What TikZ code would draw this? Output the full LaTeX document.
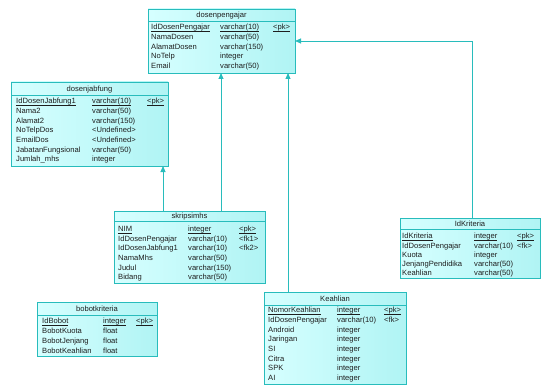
\documentclass[tikz,border=0pt]{standalone}
\usepackage{fontspec}
\setmainfont{Liberation Sans}
\usetikzlibrary{arrows.meta}
\definecolor{tealc}{RGB}{40,188,188}
\definecolor{cyantop}{RGB}{214,255,255}
\definecolor{cyanbot}{RGB}{176,244,244}
\definecolor{txt}{RGB}{30,30,30}
\newcommand\keyul[1]{\underline{\raisebox{0pt}[\height][0pt]{#1}}}
\tikzset{
  tbl/.style={draw=tealc,line width=0.8pt,left color=cyantop,right color=cyanbot,
    inner sep=0pt,outer sep=0pt,anchor=north west},
  sepl/.style={draw=tealc,line width=0.6pt},
  ttl/.style={text=txt,font=\fontsize{7.6}{9}\selectfont,inner sep=0pt,anchor=base},
  fld/.style={text=txt,font=\fontsize{7.6}{9}\selectfont,inner sep=0pt,anchor=base west},
  fk/.style={draw=tealc,line width=0.9pt,-{Triangle[length=6pt,width=5pt]}}
}
\begin{document}
\begin{tikzpicture}[x=1pt,y=-1pt]
\useasboundingbox (0,0) rectangle (543,385);
% dosenpengajar
\node[tbl,minimum width=147pt,minimum height=64pt] (dp) at (148,9) {};
\draw[sepl] ([yshift=-12pt]dp.north west) -- ([yshift=-12pt]dp.north east);
\node[ttl] (dp-t) at ([yshift=-8.7pt]dp.north) {dosenpengajar};
\foreach \f/\t/\k [count=\i] in {\keyul{IdDosenPengajar}/\keyul{varchar(10)}/\keyul{<pk>},
  NamaDosen/varchar(50)/{}, AlamatDosen/varchar(150)/{}, NoTelp/integer/{}, Email/varchar(50)/{}} {
  \node[fld] (dp-f\i) at (151,{29.7+(\i-1)*9.75}) {\f};
  \node[fld] (dp-y\i) at (220,{29.7+(\i-1)*9.75}) {\t};
  \node[fld] (dp-k\i) at (273,{29.7+(\i-1)*9.75}) {\k};
}
% dosenjabfung
\node[tbl,minimum width=157pt,minimum height=84pt] (dj) at (11,82) {};
\draw[sepl] ([yshift=-13pt]dj.north west) -- ([yshift=-13pt]dj.north east);
\node[ttl] (dj-t) at ([yshift=-9.2pt]dj.north) {dosenjabfung};
\foreach \f/\t/\k [count=\i] in {\keyul{IdDosenJabfung1}/\keyul{varchar(10)}/\keyul{<pk>},
  Nama2/varchar(50)/{}, Alamat2/varchar(150)/{}, NoTelpDos/<Undefined>/{}, EmailDos/<Undefined>/{},
  JabatanFungsional/varchar(50)/{}, Jumlah\_mhs/integer/{}} {
  \node[fld] (dj-f\i) at (16,{103.7+(\i-1)*9.7}) {\f};
  \node[fld] (dj-y\i) at (92,{103.7+(\i-1)*9.7}) {\t};
  \node[fld] (dj-k\i) at (147,{103.7+(\i-1)*9.7}) {\k};
}
% skripsimhs
\node[tbl,minimum width=151pt,minimum height=72pt] (sk) at (114,211) {};
\draw[sepl] ([yshift=-10pt]sk.north west) -- ([yshift=-10pt]sk.north east);
\node[ttl] (sk-t) at ([yshift=-7.7pt]sk.north) {skripsimhs};
\foreach \f/\t/\k [count=\i] in {\keyul{NIM}/\keyul{integer}/\keyul{<pk>},
  IdDosenPengajar/varchar(10)/<fk1>, IdDosenJabfung1/varchar(10)/<fk2>,
  NamaMhs/varchar(50)/{}, Judul/varchar(150)/{}, Bidang/varchar(50)/{}} {
  \node[fld] (sk-f\i) at (118,{231.7+(\i-1)*9.6}) {\f};
  \node[fld] (sk-y\i) at (188,{231.7+(\i-1)*9.6}) {\t};
  \node[fld] (sk-k\i) at (239,{231.7+(\i-1)*9.6}) {\k};
}
% IdKriteria
\node[tbl,minimum width=140pt,minimum height=60pt] (ik) at (400,218) {};
\draw[sepl] ([yshift=-11pt]ik.north west) -- ([yshift=-11pt]ik.north east);
\node[ttl] (ik-t) at ([yshift=-8.2pt]ik.north) {IdKriteria};
\foreach \f/\t/\k [count=\i] in {\keyul{IdKriteria}/\keyul{integer}/\keyul{<pk>},
  IdDosenPengajar/varchar(10)/<fk>, Kuota/integer/{},
  JenjangPendidika/varchar(50)/{}, Keahlian/varchar(50)/{}} {
  \node[fld] (ik-f\i) at (402,{238.7+(\i-1)*9.3}) {\f};
  \node[fld] (ik-y\i) at (474,{238.7+(\i-1)*9.3}) {\t};
  \node[fld] (ik-k\i) at (517,{238.7+(\i-1)*9.3}) {\k};
}
% bobotkriteria
\node[tbl,minimum width=120pt,minimum height=54pt] (bk) at (37,302) {};
\draw[sepl] ([yshift=-13pt]bk.north west) -- ([yshift=-13pt]bk.north east);
\node[ttl] (bk-t) at ([yshift=-9.2pt]bk.north) {bobotkriteria};
\foreach \f/\t/\k [count=\i] in {\keyul{IdBobot}/\keyul{integer}/\keyul{<pk>},
  BobotKuota/float/{}, BobotJenjang/float/{}, BobotKeahlian/float/{}} {
  \node[fld] (bk-f\i) at (42,{323.7+(\i-1)*10}) {\f};
  \node[fld] (bk-y\i) at (103,{323.7+(\i-1)*10}) {\t};
  \node[fld] (bk-k\i) at (136,{323.7+(\i-1)*10}) {\k};
}
% Keahlian
\node[tbl,minimum width=142pt,minimum height=92pt] (kh) at (264,292) {};
\draw[sepl] ([yshift=-13pt]kh.north west) -- ([yshift=-13pt]kh.north east);
\node[ttl] (kh-t) at ([yshift=-9.2pt]kh.north) {Keahlian};
\foreach \f/\t/\k [count=\i] in {\keyul{NomorKeahlian}/\keyul{integer}/\keyul{<pk>},
  IdDosenPengajar/varchar(10)/<fk>, Android/integer/{}, Jaringan/integer/{},
  SI/integer/{}, Citra/integer/{}, SPK/integer/{}, AI/integer/{}} {
  \node[fld] (kh-f\i) at (268,{312.7+(\i-1)*9.7}) {\f};
  \node[fld] (kh-y\i) at (337,{312.7+(\i-1)*9.7}) {\t};
  \node[fld] (kh-k\i) at (384,{312.7+(\i-1)*9.7}) {\k};
}
% references
\draw[fk] ([xshift=49pt]sk.north west) -- ([xshift=49pt]sk.north west |- dj.south);
\draw[fk] ([xshift=107pt]sk.north west) -- ([xshift=107pt]sk.north west |- dp.south);
\draw[fk] ([xshift=24pt]kh.north west) -- ([xshift=24pt]kh.north west |- dp.south);
\draw[fk] ([xshift=72pt]ik.north west) |- (dp.east);
\end{tikzpicture}
\end{document}
